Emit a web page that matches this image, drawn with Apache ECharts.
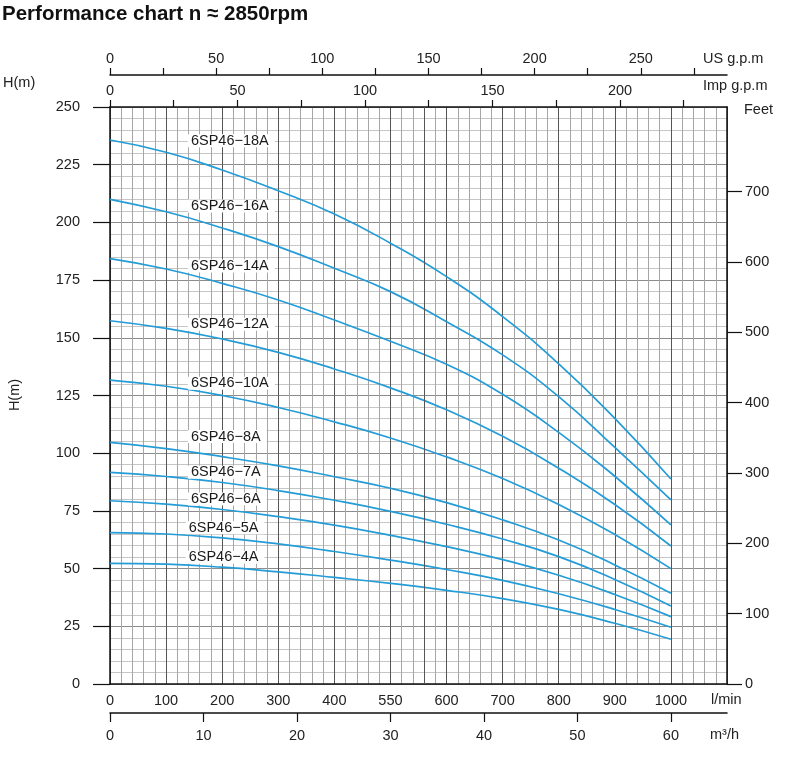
<!DOCTYPE html>
<html>
<head>
<meta charset="utf-8" />
<title>Performance chart</title>
<script src="https://cdn.jsdelivr.net/npm/echarts@6/dist/echarts.min.js"></script>
<style>
  * { margin: 0; padding: 0; }
  body { background: #fff; }
  #chart { width: 800px; height: 764px; }
</style>
</head>
<body>
<div id="chart"></div>
<script>
// flow in l/min, head in m
var flowLpm = [0, 100, 200, 300, 400, 500, 600, 700, 800, 900, 1000];
var head18A = [235.7, 230.4, 222.7, 213.7, 203.6, 191.0, 176.5, 159.2, 138.7, 115.1, 88.8];
var head16A = [210.0, 204.6, 197.6, 189.5, 180.1, 170.0, 157.0, 142.6, 124.5, 102.5, 79.8];
var head14A = [184.3, 179.8, 173.6, 166.4, 157.7, 148.5, 138.5, 125.5, 109.0, 90.0, 68.9];
var head12A = [157.4, 154.1, 149.5, 143.7, 136.5, 128.3, 118.8, 107.3, 93.5, 77.8, 59.8];
var head10A = [131.7, 129.0, 125.0, 119.8, 113.6, 106.6, 98.4, 89.0, 77.8, 64.8, 50.0];
var head8A  = [104.7, 102.0, 98.5, 94.5, 89.8, 84.8, 78.6, 71.1, 62.4, 51.6, 39.3];
var head7A  = [91.7, 89.9, 87.3, 83.8, 79.6, 74.8, 69.2, 62.8, 55.2, 45.3, 33.8];
var head6A  = [79.4, 77.9, 75.6, 72.5, 68.8, 64.4, 59.5, 53.9, 47.1, 38.8, 29.2];
var head5A  = [65.6, 65.0, 63.3, 60.7, 57.4, 53.7, 49.6, 44.9, 39.1, 32.3, 24.6];
var head4A  = [52.3, 51.9, 50.6, 48.6, 46.2, 43.6, 40.6, 37.0, 32.3, 26.3, 19.4];

var models = ['6SP46−18A', '6SP46−16A', '6SP46−14A', '6SP46−12A', '6SP46−10A',
              '6SP46−8A', '6SP46−7A', '6SP46−6A', '6SP46−5A', '6SP46−4A'];
var heads = [head18A, head16A, head14A, head12A, head10A, head8A, head7A, head6A, head5A, head4A];

// tick labels
var lpmTicks = [0, 100, 200, 300, 400, 500, 600, 700, 800, 900, 1000];
var lpmText  = ['0', '100', '200', '300', '400', '550', '600', '700', '800', '900', '1000'];
var m3hTicks = [0, 10, 20, 30, 40, 50, 60];
var usTicks  = [0, 25, 50, 75, 100, 125, 150, 175, 200, 225, 250, 275];
var usLabels = [0, 50, 100, 150, 200, 250];
var impTicks = [0, 25, 50, 75, 100, 125, 150, 175, 200, 225];
var impLabels = [0, 50, 100, 150, 200];
var feetTicks = [0, 100, 200, 300, 400, 500, 600, 700];

// where the model names sit (l/min, m)
var labelSpots = [[138, 235.4], [138, 207.1], [138, 181.1], [138, 155.9], [138, 130.3],
                  [138, 107.2], [138, 91.8], [138, 80.2], [134, 67.7], [134, 54.9]];

var LPM_MAX = 1100;
var H_MAX = 250;
var FONT = '"Liberation Sans", Arial, sans-serif';
var ink = '#222';

var chart = echarts.init(document.getElementById('chart'));

function topAxis(max, ticks, labels, offset) {
  return {
    type: 'value', position: 'top', offset: offset, gridIndex: 0,
    min: 0, max: max,
    axisLine: { show: true, onZero: false, lineStyle: { color: '#111', width: 1.5 } },
    axisTick: { show: true, inside: false, length: 7, customValues: ticks, lineStyle: { color: '#111', width: 1.2 } },
    axisLabel: { show: true, customValues: labels, margin: 9, fontSize: 14.5, fontFamily: FONT, color: ink },
    splitLine: { show: false }
  };
}

var series = heads.map(function (h, i) {
  return {
    type: 'line',
    name: models[i],
    xAxisIndex: 0, yAxisIndex: 0,
    data: flowLpm.map(function (q, j) { return [q, h[j]]; }),
    smooth: 0.5,
    symbol: 'none',
    silent: true,
    lineStyle: { color: '#239cd7', width: 1.7 },
    z: 3
  };
});

// odd darker grid line in the original sheet
series[0].markLine = {
  silent: true, symbol: 'none', animation: false,
  label: { show: false },
  lineStyle: { color: '#555', type: 'solid', width: 1 },
  data: [{ xAxis: 560 }]
};

series.push({
  type: 'scatter',
  xAxisIndex: 0, yAxisIndex: 0,
  symbolSize: 1,
  itemStyle: { color: 'rgba(255,255,255,0)', opacity: 1 },
  silent: true,
  z: 6,
  data: models.map(function (m, i) { return { name: m, value: labelSpots[i] }; }),
  label: {
    show: true, position: 'right', distance: 0, formatter: '{b}',
    color: '#1a1a1a', opacity: 1, textBorderWidth: 0, fontSize: 14.5, fontFamily: FONT,
    lineHeight: 13, backgroundColor: '#fff', padding: [0, 6, 0, 3]
  }
});

chart.setOption({
  animation: false,
  backgroundColor: '#fff',
  grid: { left: 110, right: 73, top: 107, bottom: 80, outerBoundsMode: 'none' },
  xAxis: [
    {
      type: 'value', position: 'bottom', min: 0, max: LPM_MAX, interval: 100,
      axisLine: { show: true, onZero: false, lineStyle: { color: '#111', width: 1.5 } },
      axisTick: { show: false },
      axisLabel: {
        customValues: lpmTicks, margin: 9, fontSize: 14.5, fontFamily: FONT, color: ink,
        formatter: function (v) { return lpmText[lpmTicks.indexOf(v)]; }
      },
      splitLine: { show: true, lineStyle: { color: '#555', width: 1 } },
      minorTick: { show: false, splitNumber: 5 },
      minorSplitLine: { show: true, lineStyle: { color: '#a6a6a6', width: 1 } }
    },
    {
      type: 'value', position: 'bottom', offset: 29, min: 0, max: LPM_MAX * 60 / 1000,
      axisLine: { show: true, onZero: false, lineStyle: { color: '#111', width: 1.5 } },
      axisTick: { show: true, inside: false, length: 9, customValues: m3hTicks, lineStyle: { color: '#111', width: 1.2 } },
      axisLabel: { customValues: m3hTicks, margin: 15, fontSize: 14.5, fontFamily: FONT, color: ink },
      splitLine: { show: false }
    },
    topAxis(LPM_MAX / 4.54609, impTicks, impLabels, 0),
    topAxis(LPM_MAX / 3.78541, usTicks, usLabels, 32)
  ],
  yAxis: [
    {
      type: 'value', position: 'left', min: 0, max: H_MAX, interval: 25,
      axisLine: { show: true, onZero: false, lineStyle: { color: '#111', width: 1.5 } },
      axisTick: { show: true, inside: false, length: 17, lineStyle: { color: '#111', width: 1.2 } },
      axisLabel: { margin: 30, fontSize: 14.5, fontFamily: FONT, color: ink },
      splitLine: { show: true, lineStyle: { color: '#8c8c8c', width: 1 } },
      minorTick: { show: false, splitNumber: 5 },
      minorSplitLine: { show: true, lineStyle: { color: '#c6c6c6', width: 1 } }
    },
    {
      type: 'value', position: 'right', min: 0, max: H_MAX * 3.28084,
      axisLine: { show: true, onZero: false, lineStyle: { color: '#111', width: 1.5 } },
      axisTick: { show: true, inside: false, length: 15, customValues: feetTicks, lineStyle: { color: '#111', width: 1.2 } },
      axisLabel: { customValues: feetTicks, margin: 18, fontSize: 14.5, fontFamily: FONT, color: ink },
      splitLine: { show: false }
    }
  ],
  graphic: [
    { type: 'text', x: 2, y: 14, style: { text: 'Performance chart n ≈ 2850rpm', font: 'bold 20.5px ' + FONT, fill: '#111', verticalAlign: 'middle' } },
    { type: 'text', x: 3, y: 83, style: { text: 'H(m)', font: '14.5px ' + FONT, fill: ink, verticalAlign: 'middle' } },
    { type: 'text', x: 15, y: 395, rotation: Math.PI / 2, style: { text: 'H(m)', font: '14.5px ' + FONT, fill: ink, align: 'center', verticalAlign: 'middle' } },
    { type: 'text', x: 703, y: 59, style: { text: 'US g.p.m', font: '14.5px ' + FONT, fill: ink, verticalAlign: 'middle' } },
    { type: 'text', x: 703, y: 86, style: { text: 'Imp g.p.m', font: '14.5px ' + FONT, fill: ink, verticalAlign: 'middle' } },
    { type: 'text', x: 744, y: 110, style: { text: 'Feet', font: '14.5px ' + FONT, fill: ink, verticalAlign: 'middle' } },
    { type: 'text', x: 711, y: 700, style: { text: 'l/min', font: '14.5px ' + FONT, fill: ink, verticalAlign: 'middle' } },
    { type: 'text', x: 710, y: 735, style: { text: 'm³/h', font: '14.5px ' + FONT, fill: ink, verticalAlign: 'middle' } }
  ],
  series: series
});
</script>
</body>
</html>
